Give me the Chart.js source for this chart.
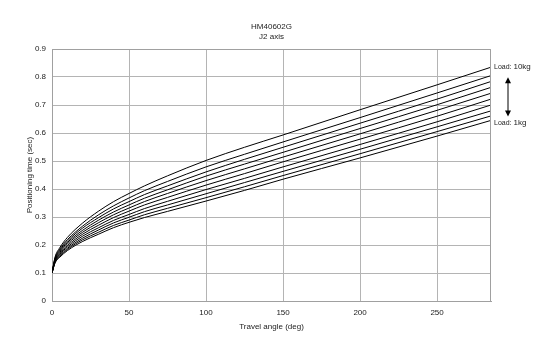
<!DOCTYPE html>
<html>
<head>
<meta charset="utf-8">
<script src="https://cdn.jsdelivr.net/npm/chart.js@4.4.0/dist/chart.umd.min.js"></script>
<style>
  html, body { margin: 0; padding: 0; background: #fff; }
  #wrap { width: 550px; height: 352px; }
</style>
</head>
<body>
<div id="wrap"><canvas id="chart" width="550" height="352"></canvas></div>
<script>
// ── DATA ──
const angles = [0, 2, 5, 10, 20, 30, 40, 50, 60, 75, 100, 125, 150, 200, 250, 285];

const load1kg  = [0.1, 0.136, 0.156, 0.180, 0.213, 0.238, 0.262, 0.281, 0.298, 0.320, 0.357, 0.395, 0.435, 0.511, 0.589, 0.645];
const load2kg  = [0.1, 0.138, 0.159, 0.184, 0.219, 0.245, 0.270, 0.289, 0.308, 0.331, 0.369, 0.408, 0.448, 0.526, 0.605, 0.661];
const load3kg  = [0.1, 0.140, 0.162, 0.188, 0.225, 0.253, 0.279, 0.299, 0.319, 0.343, 0.383, 0.423, 0.463, 0.542, 0.622, 0.679];
const load4kg  = [0.1, 0.142, 0.166, 0.193, 0.232, 0.261, 0.288, 0.309, 0.330, 0.356, 0.398, 0.438, 0.479, 0.559, 0.640, 0.700];
const load5kg  = [0.1, 0.144, 0.169, 0.198, 0.239, 0.270, 0.298, 0.321, 0.343, 0.370, 0.414, 0.455, 0.497, 0.578, 0.660, 0.721];
const load6kg  = [0.1, 0.147, 0.173, 0.204, 0.246, 0.279, 0.308, 0.332, 0.355, 0.384, 0.430, 0.472, 0.514, 0.597, 0.681, 0.742];
const load7kg  = [0.1, 0.149, 0.177, 0.209, 0.253, 0.288, 0.318, 0.343, 0.367, 0.397, 0.446, 0.489, 0.531, 0.616, 0.701, 0.763];
const load8kg  = [0.1, 0.151, 0.181, 0.214, 0.261, 0.297, 0.329, 0.355, 0.380, 0.411, 0.461, 0.506, 0.549, 0.635, 0.721, 0.784];
const load9kg  = [0.1, 0.154, 0.185, 0.219, 0.268, 0.307, 0.340, 0.368, 0.394, 0.427, 0.479, 0.524, 0.568, 0.655, 0.743, 0.805];
const load10kg = [0.1, 0.157, 0.190, 0.227, 0.279, 0.320, 0.355, 0.384, 0.411, 0.447, 0.502, 0.549, 0.593, 0.683, 0.772, 0.835];

const series = [load1kg, load2kg, load3kg, load4kg, load5kg, load6kg, load7kg, load8kg, load9kg, load10kg];
const seriesNames = ['1kg', '2kg', '3kg', '4kg', '5kg', '6kg', '7kg', '8kg', '9kg', '10kg'];

const titleLines = ['HM40602G', 'J2 axis'];
const xTitle = 'Travel angle (deg)';
const yTitle = 'Positioning time (sec)';
const xMax = 285;
const yMax = 0.9;

const FONT = 'Liberation Sans, Arial, sans-serif';
const GRID = '#b4b4b4';

// ── EXTRAS: frame, title, load labels ──
const extras = {
  id: 'extras',
  afterDatasetsDraw(chart) {
    const { ctx, chartArea: a, scales } = chart;
    ctx.save();

    // top + right frame
    ctx.strokeStyle = '#a0a0a0';
    ctx.lineWidth = 1;
    ctx.beginPath();
    ctx.moveTo(a.left, a.top + 0.5);
    ctx.lineTo(a.right - 0.5, a.top + 0.5);
    ctx.lineTo(a.right - 0.5, a.bottom);
    ctx.stroke();

    // title
    ctx.fillStyle = '#222';
    ctx.textAlign = 'center';
    ctx.textBaseline = 'middle';
    ctx.font = '8px ' + FONT;
    const cx = (a.left + a.right) / 2;
    ctx.fillText(titleLines[0], cx, 27);
    ctx.fillText(titleLines[1], cx, 37);

    // load labels at the end of the outer curves
    const yTop = scales.y.getPixelForValue(load10kg[load10kg.length - 1]);
    const yBot = scales.y.getPixelForValue(load1kg[load1kg.length - 1]);
    const lx = a.right + 3;
    ctx.textAlign = 'left';
    ctx.font = '7px ' + FONT;
    ctx.fillText('Load:', lx, yTop);
    ctx.fillText('Load:', lx, yBot + 3);
    const w = ctx.measureText('Load: ').width;
    ctx.font = '8px ' + FONT;
    ctx.fillText('10kg', lx + w, yTop - 0.5);
    ctx.fillText('1kg', lx + w, yBot + 2);

    // double arrow
    const ax = a.right + 17;
    const t = yTop + 10, b = yBot - 4;
    ctx.strokeStyle = '#000';
    ctx.beginPath();
    ctx.moveTo(ax, t + 4);
    ctx.lineTo(ax, b - 4);
    ctx.stroke();
    ctx.fillStyle = '#000';
    ctx.beginPath();
    ctx.moveTo(ax, t); ctx.lineTo(ax - 3, t + 6); ctx.lineTo(ax + 3, t + 6); ctx.closePath();
    ctx.fill();
    ctx.beginPath();
    ctx.moveTo(ax, b); ctx.lineTo(ax - 3, b - 6); ctx.lineTo(ax + 3, b - 6); ctx.closePath();
    ctx.fill();

    ctx.restore();
  }
};

// ── CHART ──
const datasets = series.map((vals, i) => ({
  label: seriesNames[i],
  data: angles.map((x, j) => ({ x, y: vals[j] })),
  borderColor: '#000',
  borderWidth: 1,
  pointRadius: 0,
  fill: false,
  cubicInterpolationMode: 'monotone'
}));

new Chart(document.getElementById('chart'), {
  type: 'line',
  data: { datasets },
  plugins: [extras],
  options: {
    responsive: false,
    animation: false,
    layout: { padding: { top: 49, right: 59, left: 25, bottom: 20 } },
    plugins: {
      legend: { display: false },
      title: { display: false },
      tooltip: { enabled: false }
    },
    scales: {
      x: {
        type: 'linear',
        min: 0,
        max: xMax,
        afterFit: s => { s.height = 31; },
        grid: { color: GRID, drawTicks: false },
        border: { color: '#a0a0a0' },
        ticks: {
          stepSize: 50,
          includeBounds: false,
          padding: 7,
          maxRotation: 0,
          color: '#222',
          font: { family: FONT, size: 8 }
        },
        title: {
          display: true,
          text: xTitle,
          padding: 0,
          color: '#222',
          font: { family: FONT, size: 8 }
        }
      },
      y: {
        min: 0,
        max: yMax,
        afterFit: s => { s.width = 27; },
        grid: { color: GRID, drawTicks: false },
        border: { color: '#a0a0a0' },
        ticks: {
          stepSize: 0.1,
          padding: 6,
          color: '#222',
          font: { family: FONT, size: 8 }
        },
        title: {
          display: true,
          text: yTitle,
          padding: 0,
          color: '#222',
          font: { family: FONT, size: 8 }
        }
      }
    }
  }
});
</script>
</body>
</html>
